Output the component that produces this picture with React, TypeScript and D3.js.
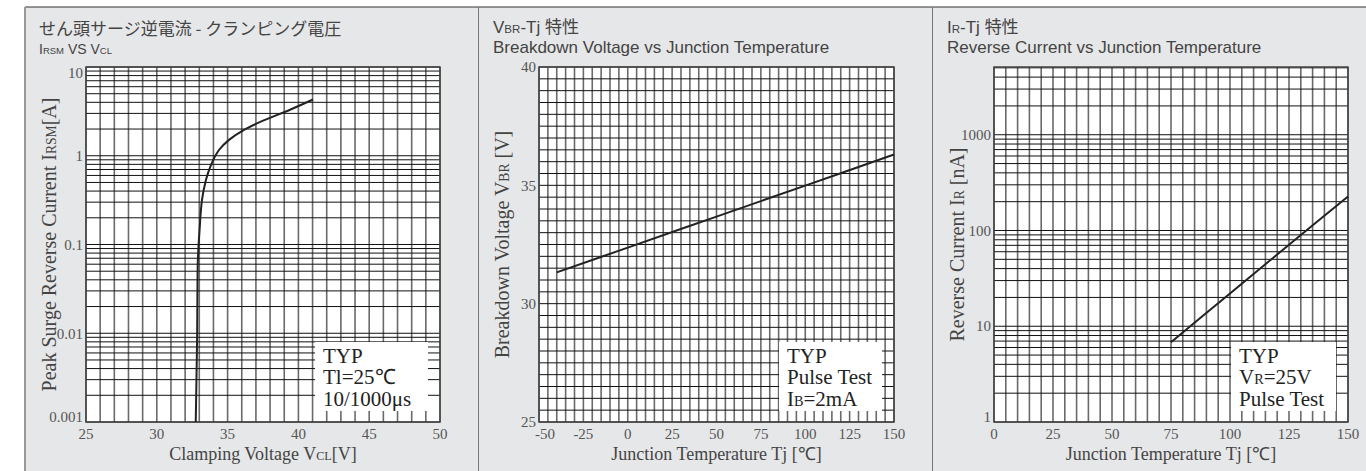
import React from 'react';
import * as d3 from 'd3';

const W = 1366;
const H = 471;

// せん頭サージ逆電流 - クランピング電圧 (IRSM vs VCL)
const clampVoltage = [32.75, 32.8, 32.85, 32.87, 32.9, 33.02, 33.19, 33.47, 33.83, 34.39, 35.1, 36.16, 37.64, 39.41, 41.03];
const surgeCurrent = [0.001, 0.003, 0.01, 0.03, 0.068, 0.146, 0.316, 0.532, 0.79, 1.16, 1.51, 1.96, 2.54, 3.3, 4.3];
const clampXTicks = [25, 30, 35, 40, 45, 50];
const clampYTicks = [0.001, 0.01, 0.1, 1, 10];
const clampYLabels = ['0.001', '0.01', '0.1', '1', '10'];

// VBR-Tj 特性
const vbrTemp = [-40, 0, 50, 100, 150];
const vbrVoltage = [31.32, 32.37, 33.68, 34.99, 36.3];
const vbrXTicks = [-50, -25, 0, 25, 50, 75, 100, 125, 150];
const vbrYTicks = [25, 30, 35, 40];

// IR-Tj 特性
const irTemp = [75, 100, 125, 150];
const irCurrent = [6.8, 22, 71, 227];
const irXTicks = [0, 25, 50, 75, 100, 125, 150];
const irYTicks = [1, 10, 100, 1000];

const PLOT_TOP = 67;
const PLOT_BOTTOM = 422;
const SERIF = "'Liberation Serif', 'Times New Roman', serif";
const SANS = "'Liberation Sans', Arial, 'Noto Sans CJK JP', sans-serif";
const CJK = "'Noto Sans CJK JP', 'Liberation Sans', sans-serif";

const sub = (t: string) => <tspan fontSize="0.68em">{t}</tspan>;

function logGrid(lo: number, hi: number) {
  const out: number[] = [];
  for (let k = Math.floor(Math.log10(lo)); k <= Math.ceil(Math.log10(hi)); k++) {
    for (let m = 1; m <= 9; m++) {
      const v = m * Math.pow(10, k);
      if (v >= lo * 0.999 && v <= hi * 1.001) out.push(v);
    }
  }
  return out;
}

interface PanelProps {
  left: number;
  right: number;
  xDomain: [number, number];
  xStep: number;
  xTicks: number[];
  yLog: boolean;
  yDomain: [number, number];
  yStep?: number;
  yTicks: number[];
  yLabels?: string[];
  xs: number[];
  ys: number[];
  xTitle: React.ReactNode;
  yTitle: React.ReactNode;
  legend: React.ReactNode[];
  legendW: number;
}

const Panel: React.FC<PanelProps> = (p) => {
  const x = d3.scaleLinear().domain(p.xDomain).range([p.left, p.right]);
  const y = p.yLog
    ? d3.scaleLog().domain(p.yDomain).range([PLOT_BOTTOM, PLOT_TOP])
    : d3.scaleLinear().domain(p.yDomain).range([PLOT_BOTTOM, PLOT_TOP]);

  const xGrid = d3.range(p.xDomain[0], p.xDomain[1] + 1e-9, p.xStep);
  const yGrid = p.yLog ? logGrid(p.yDomain[0], p.yDomain[1]) : d3.range(p.yDomain[0], p.yDomain[1] + 1e-9, p.yStep!);

  const line = d3.line<number>()
    .x((_, i) => x(p.xs[i]))
    .y((d) => y(d))
    .curve(d3.curveCatmullRom.alpha(0.5));

  const midY = (PLOT_TOP + PLOT_BOTTOM) / 2;
  const lgRight = p.right - 12;
  const lgLeft = lgRight - p.legendW;

  // log paper labels sit just inside the frame at the ends
  const yLabelPos = (v: number) => {
    const py = y(v);
    if (!p.yLog) return py;
    if (Math.abs(py - PLOT_TOP) < 1) return py + 6;
    if (Math.abs(py - PLOT_BOTTOM) < 1) return py - 5;
    return py;
  };

  return (
    <g>
      <rect x={p.left} y={PLOT_TOP} width={p.right - p.left} height={PLOT_BOTTOM - PLOT_TOP} fill="#fff" />
      {xGrid.map((v, i) => (
        <line key={'vx' + i} x1={x(v)} x2={x(v)} y1={PLOT_TOP} y2={PLOT_BOTTOM} stroke="#6a6a6a" strokeWidth={1.6} />
      ))}
      {yGrid.map((v, i) => (
        <line key={'hy' + i} x1={p.left} x2={p.right} y1={y(v)} y2={y(v)} stroke="#111" strokeWidth={1} />
      ))}
      <rect x={p.left} y={PLOT_TOP} width={p.right - p.left} height={PLOT_BOTTOM - PLOT_TOP} fill="none" stroke="#444" strokeWidth={1.5} />
      <path d={line(p.ys) || ''} fill="none" stroke="#222" strokeWidth={2} />

      <rect x={lgLeft} y={342} width={p.legendW} height={69} fill="#fff" />
      <g fontFamily={SERIF} fontSize={21} fill="#222">
        {p.legend.map((t, i) => (
          <text key={i} x={lgLeft + 8} y={363 + i * 21.3}>{t}</text>
        ))}
      </g>

      <g fontFamily={SERIF} fontSize={15} fill="#555">
        {p.xTicks.map((v, i) => (
          <text
            key={'xt' + v}
            x={i === 0 && v < 0 ? x(v) - 4 : x(v)}
            y={PLOT_BOTTOM + 17}
            textAnchor={i === 0 && v < 0 ? 'start' : 'middle'}
          >
            {v}
          </text>
        ))}
        {p.yTicks.map((v, i) => (
          <text key={'yt' + v} x={p.left - 3} y={yLabelPos(v)} dy="0.35em" textAnchor="end">
            {p.yLabels ? p.yLabels[i] : v}
          </text>
        ))}
      </g>
      <text x={(p.left + p.right) / 2} y={460} textAnchor="middle" fontFamily={SERIF} fontSize={18} fill="#444">
        {p.xTitle}
      </text>
      <text
        transform={`translate(${p.left - 30},${midY}) rotate(-90)`}
        textAnchor="middle"
        fontFamily={SERIF}
        fontSize={20}
        fill="#444"
      >
        {p.yTitle}
      </text>
    </g>
  );
};

export default function App() {
  return (
    <svg width={W} height={H} style={{ position: 'absolute', left: 0, top: 0, display: 'block' }}>
      <rect x={0} y={0} width={W} height={H} fill="#fff" />
      <rect x={25} y={7} width={W - 25} height={H - 7} fill="#e6e7e8" />
      <line x1={25} x2={W} y1={7} y2={7} stroke="#333" strokeWidth={1} />
      <line x1={25} x2={25} y1={7} y2={H} stroke="#999" strokeWidth={2} />
      <line x1={478.5} x2={478.5} y1={7} y2={H} stroke="#777" strokeWidth={1} />
      <line x1={932.5} x2={932.5} y1={7} y2={H} stroke="#777" strokeWidth={1} />

      {/* titles */}
      <g fill="#444">
        <text x={39} y={35} fontFamily={CJK} fontSize={17}>せん頭サージ逆電流 - クランピング電圧</text>
        <text x={39} y={54} fontFamily={SANS} fontSize={14}>I{sub('RSM')} VS V{sub('CL')}</text>
        <text x={493} y={33} fontFamily={SANS} fontSize={17}>V{sub('BR')}-Tj <tspan fontFamily={CJK}>特性</tspan></text>
        <text x={493} y={53} fontFamily={SANS} fontSize={17}>Breakdown Voltage vs Junction Temperature</text>
        <text x={947} y={33} fontFamily={SANS} fontSize={17}>I{sub('R')}-Tj <tspan fontFamily={CJK}>特性</tspan></text>
        <text x={947} y={53} fontFamily={SANS} fontSize={17}>Reverse Current vs Junction Temperature</text>
      </g>

      <Panel
        left={86}
        right={440}
        xDomain={[25, 50]}
        xStep={1}
        xTicks={clampXTicks}
        yLog
        yDomain={[0.001, 10]}
        yTicks={clampYTicks}
        yLabels={clampYLabels}
        xs={clampVoltage}
        ys={surgeCurrent}
        xTitle={<>Clamping Voltage V{sub('CL')}[V]</>}
        yTitle={<>Peak Surge Reverse Current I{sub('RSM')}[A]</>}
        legend={[<>TYP</>, <>Tl=25℃</>, <>10/1000μs</>]}
        legendW={113}
      />
      <Panel
        left={539}
        right={894}
        xDomain={[-50, 150]}
        xStep={5}
        xTicks={vbrXTicks}
        yLog={false}
        yDomain={[25, 40]}
        yStep={0.5}
        yTicks={vbrYTicks}
        xs={vbrTemp}
        ys={vbrVoltage}
        xTitle={<>Junction Temperature Tj [℃]</>}
        yTitle={<>Breakdown Voltage V{sub('BR')} [V]</>}
        legend={[<>TYP</>, <>Pulse Test</>, <>I{sub('B')}=2mA</>]}
        legendW={103}
      />
      <Panel
        left={994}
        right={1348}
        xDomain={[0, 150]}
        xStep={5}
        xTicks={irXTicks}
        yLog
        yDomain={[1, 5100]}
        yTicks={irYTicks}
        xs={irTemp}
        ys={irCurrent}
        xTitle={<>Junction Temperature Tj [℃]</>}
        yTitle={<>Reverse Current I{sub('R')} [nA]</>}
        legend={[<>TYP</>, <>V{sub('R')}=25V</>, <>Pulse Test</>]}
        legendW={105}
      />
    </svg>
  );
}
